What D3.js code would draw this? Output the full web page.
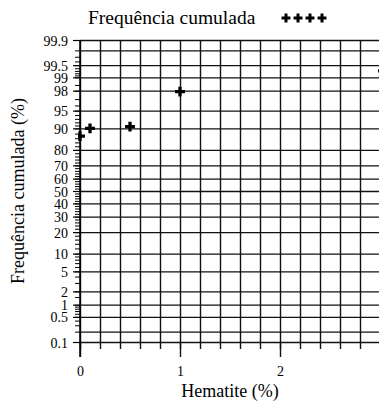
<!DOCTYPE html>
<html>
<head>
<meta charset="utf-8">
<script src="https://cdn.jsdelivr.net/npm/d3@7"></script>
<style>
  html, body { margin: 0; padding: 0; background: #fff; }
  svg { display: block; }
  svg text { font-family: "Liberation Serif", Tinos, "Times New Roman", "DejaVu Serif", serif !important; fill: #000; }
</style>
</head>
<body>
<svg id="chart" width="379" height="402"></svg>
<script>
// Hematite content (%) and cumulative frequency (%)
const hematite = [0, 0.1, 0.5, 1.0, 3.03];
const cumFreq  = [86.9, 90.0, 90.6, 97.9, 99.3];

// Probability-axis labels and gridlines
const yLabelValues = [0.1, 0.5, 1, 2, 5, 10, 20, 30, 40, 50, 60, 70, 80, 90, 95, 98, 99, 99.5, 99.9];
const yGridValues  = [0.1, 0.2, 0.5, 1, 2, 5, 10, 20, 30, 40, 50, 60, 70, 80, 90, 95, 98, 99, 99.5, 99.8, 99.9];
const yMinorValues = [
  0.1, 0.2, 0.3, 0.4, 0.5, 0.6, 0.7, 0.8, 0.9, 1, 1.5, 2, 3, 4, 5, 6, 7, 8, 9, 10,
  12, 14, 16, 18, 20, 22, 24, 26, 28, 30, 32, 34, 36, 38, 40, 42, 44, 46, 48, 50,
  52, 54, 56, 58, 60, 62, 64, 66, 68, 70, 72, 74, 76, 78, 80, 82, 84, 86, 88, 90,
  91, 92, 93, 94, 95, 96, 97, 98, 98.5, 99, 99.1, 99.2, 99.3, 99.4, 99.5, 99.6, 99.7, 99.8, 99.9
];
const xLabelValues = [0, 1, 2];
const xGridValues  = d3.range(0, 3.001, 0.2).map(v => +v.toFixed(1));

// Inverse standard normal CDF (Acklam's rational approximation)
function probit(p) {
  const a = [-3.969683028665376e+01, 2.209460984245205e+02, -2.759285104469687e+02,
             1.383577518672690e+02, -3.066479806614716e+01, 2.506628277459239e+00];
  const b = [-5.447609879822406e+01, 1.615858368580409e+02, -1.556989798598866e+02,
             6.680131188771972e+01, -1.328068155288572e+01];
  const c = [-7.784894002430293e-03, -3.223964580411365e-01, -2.400758277161838e+00,
             -2.549671010243277e+00, 4.374664141464968e+00, 2.938163982698783e+00];
  const d = [7.784695709041462e-03, 3.224671290700398e-01, 2.445134137142996e+00,
             3.754408661907416e+00];
  const pl = 0.02425, ph = 1 - pl;
  let q, r;
  if (p < pl) {
    q = Math.sqrt(-2 * Math.log(p));
    return (((((c[0]*q+c[1])*q+c[2])*q+c[3])*q+c[4])*q+c[5]) / ((((d[0]*q+d[1])*q+d[2])*q+d[3])*q+1);
  } else if (p <= ph) {
    q = p - 0.5; r = q * q;
    return (((((a[0]*r+a[1])*r+a[2])*r+a[3])*r+a[4])*r+a[5])*q / (((((b[0]*r+b[1])*r+b[2])*r+b[3])*r+b[4])*r+1);
  } else {
    q = Math.sqrt(-2 * Math.log(1 - p));
    return -(((((c[0]*q+c[1])*q+c[2])*q+c[3])*q+c[4])*q+c[5]) / ((((d[0]*q+d[1])*q+d[2])*q+d[3])*q+1);
  }
}
const z = pct => probit(pct / 100);

const SERIF = '"Liberation Serif", Tinos, "Times New Roman", "DejaVu Serif", serif';
const margin = { left: 80, top: 40 };
const plotW = 300, plotH = 302;

const svg = d3.select("#chart");
const g = svg.append("g").attr("transform", `translate(${margin.left},${margin.top})`);

const x = d3.scaleLinear().domain([0, 3]).range([0, plotW]);
const zScale = d3.scaleLinear().domain([z(0.1), z(99.9)]).range([plotH, 0]);
const y = pct => zScale(z(pct));

const clipId = "plotclip";
svg.append("defs").append("clipPath").attr("id", clipId)
  .append("rect").attr("x", -2).attr("y", -2).attr("width", plotW + 10).attr("height", plotH + 4);

// Horizontal gridlines
g.append("g").attr("class", "ygrid")
  .call(d3.axisLeft(zScale).tickValues(yGridValues.map(z)).tickSize(-plotW).tickFormat(""))
  .call(s => s.select(".domain").remove())
  .call(s => s.selectAll("line").attr("stroke", "#111").attr("stroke-width", 1.4));

// Vertical gridlines, continuing below the plot as ticks
g.append("g").attr("class", "xgrid")
  .call(d3.axisBottom(x).tickValues(xGridValues).tickSize(plotH + 7).tickFormat(""))
  .call(s => s.select(".domain").remove())
  .call(s => s.selectAll("line").attr("stroke", "#111").attr("stroke-width", 1.4));

// Longer ticks at the labelled x values
g.append("g").attr("transform", `translate(0,${plotH})`)
  .call(d3.axisBottom(x).tickValues(xLabelValues).tickSize(15).tickPadding(9)
    .tickFormat(d3.format("d")))
  .call(s => s.select(".domain").remove())
  .call(s => s.selectAll("line").attr("stroke", "#111").attr("stroke-width", 1.4))
  .call(s => s.selectAll("text").attr("font-size", 14).style("font-family", SERIF));

// Left axis: minor ticks and labels
g.append("g")
  .call(d3.axisLeft(zScale).tickValues(yMinorValues.map(z)).tickSize(5).tickFormat(""))
  .call(s => s.select(".domain").remove())
  .call(s => s.selectAll("line").attr("stroke", "#000").attr("stroke-width", 1));

const labelMap = new Map(yLabelValues.map(v => [z(v), v]));
g.append("g")
  .call(d3.axisLeft(zScale).tickValues(yLabelValues.map(z)).tickSize(7).tickPadding(5)
    .tickFormat(d => String(labelMap.get(d))))
  .call(s => s.select(".domain").remove())
  .call(s => s.selectAll("line").attr("stroke", "#000").attr("stroke-width", 1.2))
  .call(s => s.selectAll("text").attr("font-size", 14).attr("dy", "0.36em").style("font-family", SERIF));

// Left axis line
g.append("line")
  .attr("x1", x(0)).attr("x2", x(0)).attr("y1", 0).attr("y2", plotH + 15)
  .attr("stroke", "#000").attr("stroke-width", 1.5);

// Data points
const cross = d3.symbol().type(d3.symbolCross).size(54);
g.append("g").attr("clip-path", `url(#${clipId})`)
  .selectAll("path").data(hematite.map((h, i) => ({ h, f: cumFreq[i] })))
  .join("path")
  .attr("transform", d => `translate(${x(d.h)},${y(d.f)})`)
  .attr("d", cross)
  .attr("fill", "#000");

// Axis titles
svg.append("text")
  .attr("x", margin.left + x(1.5)).attr("y", 397)
  .attr("text-anchor", "middle").attr("font-size", 18)
  .text("Hematite (%)");

svg.append("text")
  .attr("transform", `translate(24,${margin.top + plotH / 2}) rotate(-90)`)
  .attr("text-anchor", "middle").attr("font-size", 18)
  .text("Frequência cumulada (%)");

// Legend
const legend = svg.append("g");
legend.append("text")
  .attr("x", 88).attr("y", 24).attr("font-size", 19.5)
  .text("Frequência cumulada");
legend.selectAll("path").data(d3.range(4))
  .join("path")
  .attr("transform", i => `translate(${286 + i * 12},18)`)
  .attr("d", d3.symbol().type(d3.symbolCross).size(44))
  .attr("fill", "#000");
</script>
</body>
</html>
